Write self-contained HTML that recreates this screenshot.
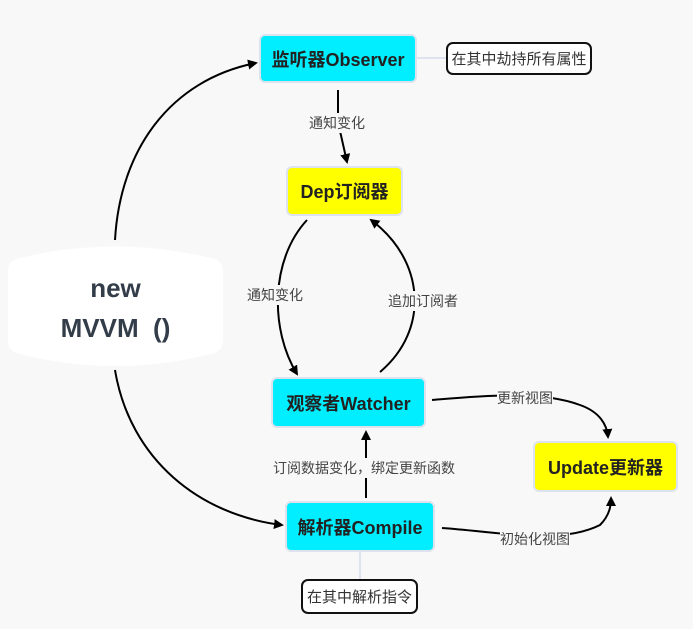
<!DOCTYPE html>
<html><head><meta charset="utf-8"><style>
body{margin:0;width:693px;height:629px;background:#f8f8f8;overflow:hidden;position:relative;font-family:"Liberation Sans","Noto Sans CJK SC",sans-serif}
.n{position:absolute;border-radius:6px;display:flex;align-items:center;justify-content:center;font-weight:bold;font-size:18px;color:#222;border:2px solid #dde3ee;box-sizing:border-box}
.c{background:#00eeff}.y{background:#ffff00}
.note{position:absolute;border:2px solid #111;border-radius:7px;background:#fff;display:flex;align-items:center;justify-content:center;font-size:15px;color:#333;box-sizing:border-box}
.l{position:absolute;font-size:14px;color:#444;background:#f8f8f8;white-space:nowrap}
</style></head><body>
<svg width="693" height="629" style="position:absolute;left:0;top:0">
<defs><marker id="a" markerWidth="10" markerHeight="10" refX="8" refY="5" orient="auto" markerUnits="userSpaceOnUse"><path d="M0,0 L10,5 L0,10 z" fill="#000"/></marker></defs>
<path d="M20,258 Q115,235 211,258 Q223,260 223,272 L223,340 Q223,352 211,354 Q115,378 20,354 Q8,352 8,340 L8,272 Q8,260 20,258 Z" fill="#fff"/>
<line x1="416" y1="58" x2="446" y2="58" stroke="#dde3ee" stroke-width="2"/>
<line x1="360" y1="551" x2="360" y2="579" stroke="#dde3ee" stroke-width="2"/>
<g fill="none" stroke="#000" stroke-width="2" marker-end="url(#a)">
<path d="M115,240 C120,150 170,80 256,63"/>
<path d="M115,370 C130,460 200,515 282,525"/>
<path d="M338,90 L338,113 M340,131 L347,162"/>
<path d="M307,220 C270,260 270,330 297,374"/>
<path d="M380,372 C430,330 425,260 371,220"/>
<path d="M366,498 L366,432"/>
<path d="M432,400 C480,396 540,390 580,405 C600,412 607,425 608,437"/>
<path d="M442,528 C500,532 560,545 600,525 C610,515 611,505 611,498"/>
</g></svg>
<div style="position:absolute;left:8px;top:268px;width:215px;text-align:center;font-size:26px;line-height:40px;color:#333d4a;font-weight:bold">new<br>MVVM&nbsp; ()</div>
<div class="n c" style="left:259px;top:34px;width:158px;height:49px">监听器Observer</div>
<div class="note" style="left:446px;top:42px;width:146px;height:33px">在其中劫持所有属性</div>
<div class="n y" style="left:286px;top:166px;width:117px;height:50px">Dep订阅器</div>
<div class="n c" style="left:271px;top:377px;width:155px;height:51px">观察者Watcher</div>
<div class="n y" style="left:533px;top:441px;width:145px;height:51px">Update更新器</div>
<div class="n c" style="left:285px;top:501px;width:150px;height:51px">解析器Compile</div>
<div class="note" style="left:301px;top:579px;width:117px;height:35px">在其中解析指令</div>
<div class="l" style="left:309px;top:113px">通知变化</div>
<div class="l" style="left:247px;top:285px">通知变化</div>
<div class="l" style="left:388px;top:291px">追加订阅者</div>
<div class="l" style="left:273px;top:458px">订阅数据变化，绑定更新函数</div>
<div class="l" style="left:497px;top:388px">更新视图</div>
<div class="l" style="left:500px;top:529px">初始化视图</div>
</body></html>
